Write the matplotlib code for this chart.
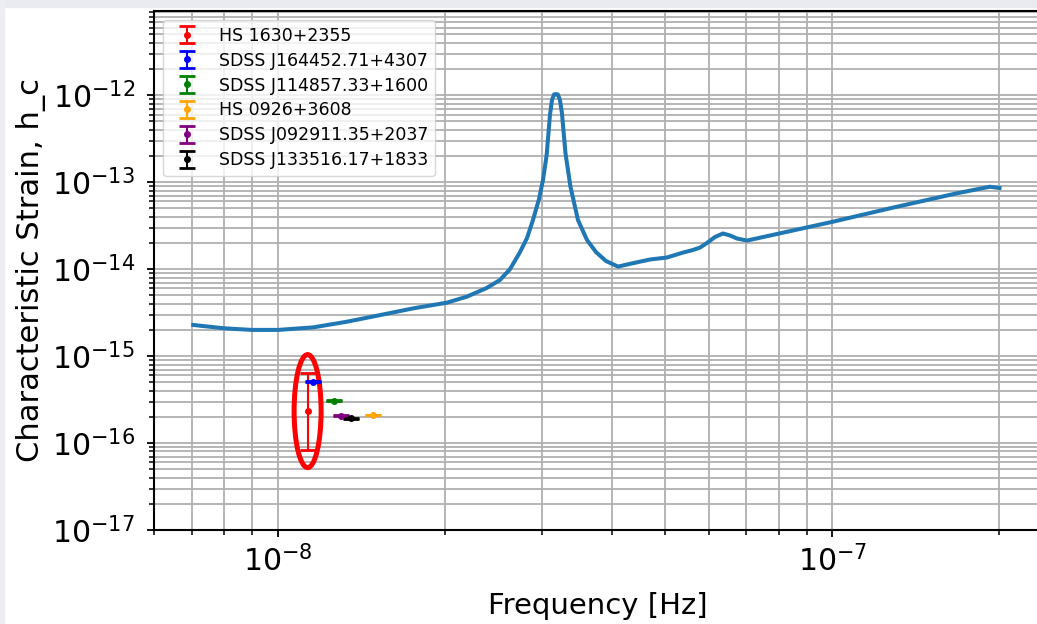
import matplotlib
matplotlib.use("Agg")
import matplotlib.pyplot as plt
from matplotlib.patches import Ellipse, Rectangle
from matplotlib.transforms import ScaledTranslation

# sensitivity curve
freq_hz = [7.05e-9, 7.99e-9, 8.98e-9, 1.003e-8, 1.160e-8, 1.332e-8, 1.530e-8,
           1.757e-8, 2.018e-8, 2.193e-8, 2.382e-8, 2.517e-8, 2.624e-8, 2.735e-8,
           2.816e-8, 2.886e-8, 2.960e-8, 3.009e-8, 3.055e-8, 3.097e-8, 3.123e-8,
           3.150e-8, 3.176e-8, 3.200e-8, 3.228e-8, 3.255e-8, 3.303e-8, 3.372e-8,
           3.479e-8, 3.612e-8, 3.749e-8, 3.908e-8, 4.107e-8, 4.370e-8, 4.691e-8,
           5.032e-8, 5.378e-8, 5.606e-8, 5.772e-8, 5.942e-8, 6.142e-8, 6.349e-8,
           6.535e-8, 6.728e-8, 7.013e-8, 8.043e-8, 1.002e-7, 1.269e-7, 1.676e-7,
           1.922e-7, 2.0e-7]
strain = [2.28e-15, 2.09e-15, 2.00e-15, 2.00e-15, 2.14e-15, 2.48e-15, 2.96e-15,
          3.54e-15, 4.11e-15, 4.82e-15, 6.07e-15, 7.50e-15, 1.00e-14, 1.57e-14,
          2.28e-14, 3.67e-14, 6.40e-14, 1.06e-13, 2.05e-13, 5.91e-13, 8.8e-13,
          1.02e-12, 1.03e-12, 1.02e-12, 8.8e-13, 6.24e-13, 2.16e-13, 8.87e-14,
          3.67e-14, 2.16e-14, 1.57e-14, 1.24e-14, 1.07e-14, 1.17e-14, 1.29e-14,
          1.36e-14, 1.55e-14, 1.66e-14, 1.77e-14, 2.00e-14, 2.34e-14, 2.57e-14,
          2.44e-14, 2.25e-14, 2.13e-14, 2.58e-14, 3.51e-14, 5.00e-14, 7.45e-14,
          8.87e-14, 8.57e-14]

# sources
src_names = ["HS 1630+2355", "SDSS J164452.71+4307", "SDSS J114857.33+1600",
             "HS 0926+3608", "SDSS J092911.35+2037", "SDSS J133516.17+1833"]
src_colors = ["red", "blue", "green", "orange", "purple", "black"]
src_freq = [1.133e-8, 1.157e-8, 1.264e-8, 1.485e-8, 1.299e-8, 1.354e-8]
src_h = [2.33e-16, 5.07e-16, 3.07e-16, 2.10e-16, 2.06e-16, 1.92e-16]
src_err_lo = [1.5e-16, 4e-18, 3e-18, 2e-18, 2e-18, 2e-18]
src_err_hi = [4.0e-16, 4e-18, 3e-18, 2e-18, 2e-18, 2e-18]

x_ticks = [1e-8, 1e-7]
y_ticks = [1e-17, 1e-16, 1e-15, 1e-14, 1e-13, 1e-12]

plt.rcParams["font.size"] = 20

fig = plt.figure(figsize=(10.37, 6.24), dpi=100)
# screenshot frame strips
fig.patches.append(Rectangle((0, 1 - 7/624), 1, 7/624, transform=fig.transFigure,
                             color="#e9ebf0", zorder=-5))
fig.patches.append(Rectangle((0, 0), 4/1037, 1, transform=fig.transFigure,
                             color="#eceef2", zorder=-5))

ax = fig.add_axes([154.4/1037, 94/624, 886/1037, 519/624])
ax.plot(freq_hz, strain, color="#1f77b4", lw=2.9)

for name, c, f, h, lo, hi in zip(src_names, src_colors, src_freq, src_h,
                                 src_err_lo, src_err_hi):
  ax.errorbar([f], [h], yerr=[[lo], [hi]], fmt="o", color=c, ms=4,
              capsize=6, elinewidth=1.5, capthick=2, label=name)

ax.set_xscale("log"); ax.set_yscale("log")
ax.set_xticks(x_ticks)
ax.set_yticks(y_ticks)
ax.set_xlim(6e-9, 2.37e-7)
ax.set_ylim(1e-17, 9.3e-12)
ax.grid(True, which="both", color="#b0b0b0", lw=1.3)
ax.set_axisbelow(True)

for sp in ax.spines.values():
  sp.set_linewidth(1.5)
ax.tick_params(which="major", length=5, width=1.3, labelsize=21.5)
ax.tick_params(which="minor", length=3.5, width=1.1)
ax.tick_params(axis="y", which="major", pad=9)
ax.tick_params(axis="x", which="major", pad=6)

ax.set_xlabel("Frequency [Hz]", fontsize=21, labelpad=10)
ax.set_ylabel("Characteristic Strain, h_c", fontsize=22)
ax.legend(loc="upper left", fontsize=12.5, labelspacing=0.4)

# highlight ring around the first source
ring = Ellipse((0, 0), 0.27, 1.13, fill=False, ec="red", lw=3.6,
               transform=fig.dpi_scale_trans + ScaledTranslation(src_freq[0], src_h[0], ax.transData))
ax.add_patch(ring)

fig.savefig("out.png", dpi=100)
